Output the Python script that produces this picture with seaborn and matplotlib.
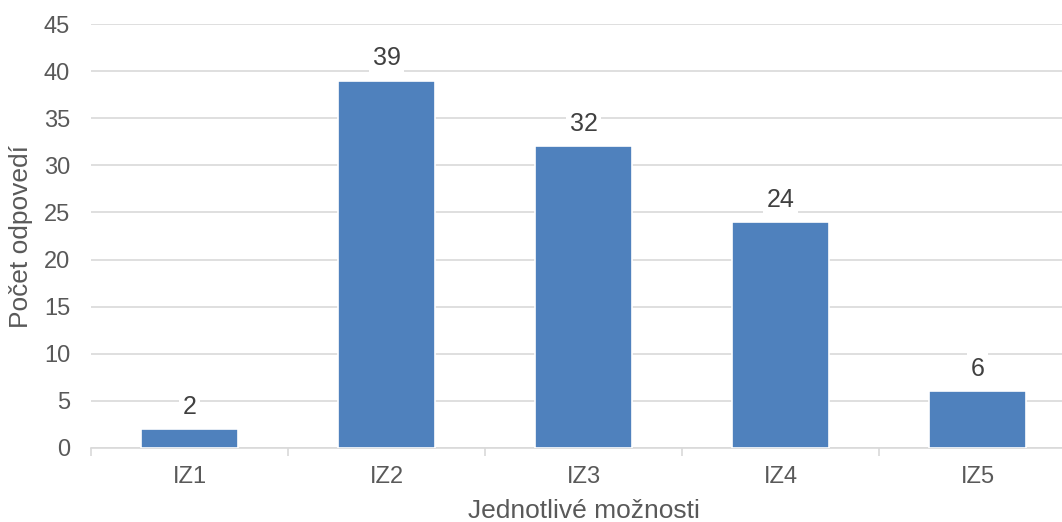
import matplotlib
matplotlib.use("Agg")
import matplotlib.pyplot as plt
import seaborn as sns
import pandas as pd
import numpy as np

categories = ["IZ1", "IZ2", "IZ3", "IZ4", "IZ5"]
counts = [2, 39, 32, 24, 6]
y_ticks = [0, 5, 10, 15, 20, 25, 30, 35, 40, 45]

sns.set_theme(style="white")
plt.rcParams["font.family"] = ["Liberation Sans", "DejaVu Sans"]

df = pd.DataFrame({"kategorie": categories, "pocet": counts})

fig = plt.figure(figsize=(10.62, 5.22), dpi=100)
ax = fig.add_axes([91 / 1062, 1 - 448 / 522, 985 / 1062, (448 - 24) / 522])

sns.barplot(data=df, x="kategorie", y="pocet", color="#4F81BD", saturation=1,
            width=0.49, edgecolor="white", linewidth=1.2, ax=ax, zorder=3)

ax.set_ylim(0, 45)
ax.set_xlim(-0.5, len(categories) - 0.5)
ax.set_yticks(y_ticks)
ax.yaxis.grid(True, color="#D9D9D9", linewidth=1.2, zorder=0)
ax.set_axisbelow(True)
for side in ["top", "right", "left"]:
    ax.spines[side].set_visible(False)
ax.spines["bottom"].set_color("#D9D9D9")
ax.spines["bottom"].set_linewidth(1.2)

# category boundary ticks on the x axis
ax.set_xticks(np.arange(-0.5, len(categories), 1.0), minor=True)
ax.tick_params(axis="x", which="minor", length=6, width=1.2, color="#D9D9D9", bottom=True)
ax.tick_params(axis="x", which="major", length=0, pad=13, labelsize=17, labelcolor="#595959")
ax.tick_params(axis="y", length=0, pad=15, labelsize=17, labelcolor="#595959")

ax.set_xlabel("Jednotlivé možnosti", fontsize=19, color="#595959", labelpad=8)
ax.set_ylabel("Počet odpovedí", fontsize=19, color="#595959", labelpad=8)

for i, v in enumerate(counts):
    ax.annotate(str(v), xy=(i, v), xytext=(0, 16), textcoords="offset points",
                ha="center", va="center", fontsize=18, color="#404040",
                bbox=dict(boxstyle="square,pad=0.15", fc="white", ec="none"), zorder=5)

fig.savefig("out.png", dpi=100)
